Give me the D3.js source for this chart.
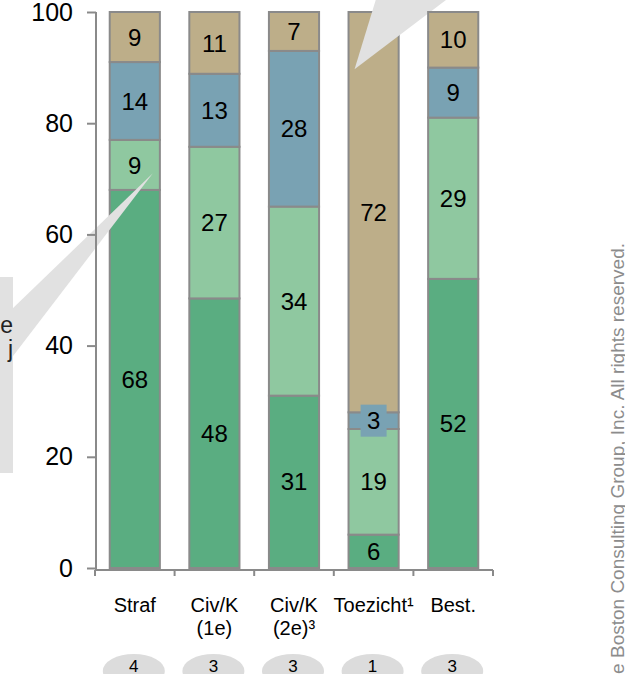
<!DOCTYPE html>
<html>
<head>
<meta charset="utf-8">
<script src="https://cdn.jsdelivr.net/npm/d3@7/dist/d3.min.js"></script>
<style>
  html, body { margin: 0; padding: 0; background: #ffffff; }
  svg { display: block; font-family: "Liberation Sans", Arial, sans-serif; }
</style>
</head>
<body>
<svg id="chart" width="625" height="674"></svg>
<script>
// ---- data ----
const categories = ["Straf", "Civ/K (1e)", "Civ/K (2e)³", "Toezicht¹", "Best."];
const categoryLines = [["Straf"], ["Civ/K", "(1e)"], ["Civ/K", "(2e)³"], ["Toezicht¹"], ["Best."]];
const seriesNames = ["s1", "s2", "s3", "s4"];
const s1 = [68, 48, 31, 6, 52];
const s2 = [9, 27, 34, 19, 29];
const s3 = [14, 13, 28, 3, 9];
const s4 = [9, 11, 7, 72, 10];
const counts = [4, 3, 3, 1, 3];
const yTicks = [0, 20, 40, 60, 80, 100];
const watermark = "© The Boston Consulting Group, Inc. All rights reserved.";
const sideLines = ["e", "j"];

// ---- styles ----
const colors = ["#5aad81", "#8fc8a0", "#79a2b3", "#bdae89"];
const borderColor = "#8a8a8a";
const axisColor = "#8a8a8a";
const calloutColor = "#e1e1e1";

const svg = d3.select("#chart");

const y = d3.scaleLinear().domain([0, 100]).range([568, 12]);
const x = d3.scaleBand().domain(categories).range([95, 493])
  .paddingInner(0.37).paddingOuter(0.185);
const bw = x.bandwidth();

// build normalized stacks
const table = categories.map((c, i) => {
  const vals = [s1[i], s2[i], s3[i], s4[i]];
  const tot = d3.sum(vals);
  const row = { cat: c, idx: i };
  seriesNames.forEach((s, k) => { row[s] = vals[k] / tot * 100; row[s + "_v"] = vals[k]; });
  return row;
});
const stack = d3.stack().keys(seriesNames)(table);

// callouts group (placed below the last bar)
const gBars = svg.append("g");
const gCall = svg.append("g");
const gLast = svg.append("g");
const barGroup = d => (d.data.idx === categories.length - 1 ? gLast : gBars);

// bars
stack.forEach((layer, k) => {
  layer.forEach(d => {
    barGroup(d).append("rect")
      .attr("x", x(d.data.cat))
      .attr("y", y(d[1]))
      .attr("width", bw)
      .attr("height", y(d[0]) - y(d[1]))
      .attr("fill", colors[k])
      .attr("stroke", borderColor)
      .attr("stroke-width", 2);
  });
});

// labels
const labelSize = 24;
stack.forEach((layer, k) => {
  layer.forEach(d => {
    const g = barGroup(d);
    const cx = x(d.data.cat) + bw / 2;
    const cy = (y(d[0]) + y(d[1])) / 2;
    const h = y(d[0]) - y(d[1]);
    if (h < labelSize) {
      g.append("rect")
        .attr("x", cx - 13).attr("y", cy - 16)
        .attr("width", 26).attr("height", 32)
        .attr("fill", colors[k]);
    }
    g.append("text")
      .attr("x", cx).attr("y", cy)
      .attr("dy", "0.36em")
      .attr("text-anchor", "middle")
      .attr("font-size", labelSize)
      .attr("fill", "#000")
      .text(d.data[seriesNames[k] + "_v"]);
  });
});

// callouts
const tipA = [x("Straf") + bw * 0.86, y(71)];
gCall.append("rect").attr("x", -10).attr("y", 277).attr("width", 23).attr("height", 196)
  .attr("fill", calloutColor);
gCall.append("polygon")
  .attr("points", [tipA, [10, 311], [10, 360]].map(p => p.join(",")).join(" "))
  .attr("fill", calloutColor);
sideLines.forEach((t, i) => {
  gCall.append("text")
    .attr("x", 13).attr("y", 333 + i * 24)
    .attr("text-anchor", "end")
    .attr("font-size", 23)
    .attr("fill", "#222")
    .text(t);
});
const tipB = [x("Toezicht¹") + bw * 0.12, y(89.7)];
gCall.append("polygon")
  .attr("points", [tipB, [391, -50], [512, -50]].map(p => p.join(",")).join(" "))
  .attr("fill", calloutColor);

// y axis
const yAxis = d3.axisLeft(y).tickValues(yTicks).tickSize(9).tickSizeOuter(0).tickPadding(14);
const gy = svg.append("g").attr("transform", "translate(96,0)").call(yAxis);
gy.select(".domain").attr("stroke", axisColor).attr("stroke-width", 2).attr("d", "M0,12V570");
gy.selectAll(".tick line").attr("stroke", axisColor).attr("stroke-width", 2);
gy.selectAll(".tick text").attr("font-size", 25).attr("fill", "#000")
  .attr("font-family", "Liberation Sans, Arial, sans-serif");

// x axis
const gx = svg.append("g");
const step = x.step();
gx.append("line").attr("x1", 95).attr("x2", 493).attr("y1", 570).attr("y2", 570)
  .attr("stroke", axisColor).attr("stroke-width", 2);
const bounds = categories.map(c => x(c) - step * x.paddingInner() / 2);
bounds.push(x(categories[categories.length - 1]) + bw + step * x.paddingInner() / 2);
gx.selectAll(null).data(bounds).enter().append("line")
  .attr("x1", d => d).attr("x2", d => d).attr("y1", 570).attr("y2", 576)
  .attr("stroke", axisColor).attr("stroke-width", 2);

// category labels
categories.forEach((c, i) => {
  const cx = x(c) + bw / 2;
  categoryLines[i].forEach((ln, j) => {
    svg.append("text")
      .attr("x", cx).attr("y", 612 + j * 23)
      .attr("text-anchor", "middle")
      .attr("font-size", 20)
      .attr("fill", "#000")
      .text(ln);
  });
  svg.append("ellipse")
    .attr("cx", cx - 1).attr("cy", 671).attr("rx", 31).attr("ry", 17)
    .attr("fill", "#dcdcdc");
  svg.append("text")
    .attr("x", cx - 1).attr("y", 666).attr("dy", "0.36em")
    .attr("text-anchor", "middle")
    .attr("font-size", 17)
    .attr("fill", "#000")
    .text(counts[i]);
});

// watermark
svg.append("text")
  .attr("transform", "translate(624,243) rotate(-90)")
  .attr("text-anchor", "end")
  .attr("font-size", 19)
  .attr("fill", "#8c8c8c")
  .text(watermark);
</script>
</body>
</html>
